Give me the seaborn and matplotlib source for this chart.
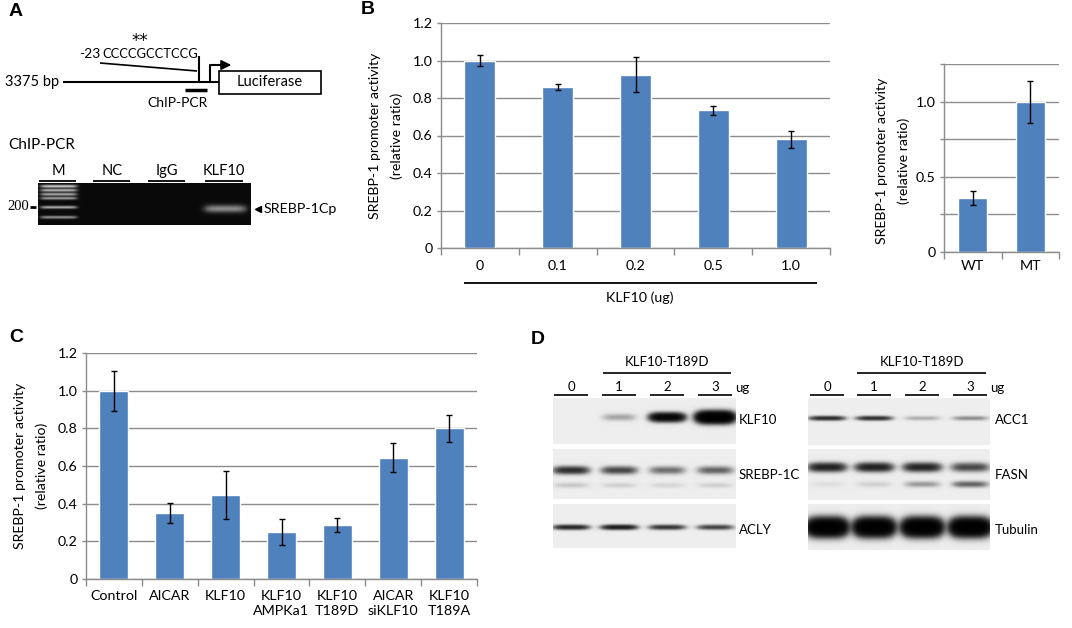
import numpy as np
import pandas as pd
import matplotlib
matplotlib.use("Agg")
import matplotlib.pyplot as plt
import seaborn as sns

# ---------------- data ----------------
b_doses = ["0", "0.1", "0.2", "0.5", "1.0"]
b_values = [1.00, 0.86, 0.925, 0.735, 0.58]
b_errors = [0.03, 0.015, 0.095, 0.023, 0.045]

b2_groups = ["WT", "MT"]
b2_values = [0.36, 1.00]
b2_errors = [0.045, 0.14]

c_groups = ["Control", "AICAR", "KLF10", "KLF10\nAMPKa1", "KLF10\nT189D",
            "AICAR\nsiKLF10", "KLF10\nT189A"]
c_values = [1.00, 0.35, 0.445, 0.25, 0.285, 0.645, 0.80]
c_errors = [0.107, 0.055, 0.128, 0.068, 0.038, 0.077, 0.072]

gel_lanes = ["M", "NC", "IgG", "KLF10"]
gel_ladder_intensity = [0.8, 0.7, 0.65, 0.6, 0.65, 0.55]
gel_klf10_band = 0.5

blot_doses = ["0", "1", "2", "3"]
blot_left_proteins = ["KLF10", "SREBP-1C", "ACLY"]
blot_right_proteins = ["ACC1", "FASN", "Tubulin"]
klf10_band = [0.0, 0.17, 1.6, 2.6]
srebp_band = [0.75, 0.55, 0.35, 0.4]
srebp_lower = [0.08, 0.06, 0.05, 0.06]
acly_band = [0.85, 1.0, 0.7, 0.6]
acc1_band = [0.8, 0.75, 0.15, 0.25]
fasn_band = [0.9, 0.9, 0.85, 0.55]
fasn_lower = [0.03, 0.06, 0.2, 0.4]
tubulin_band = [2.5, 2.5, 2.5, 2.5]

# ---------------- setup ----------------
W, H = 1072, 628
sns.set_theme(style="white")
plt.rcParams["font.family"] = ["Lato", "DejaVu Sans"]
BLUE = "#4F81BD"
GRID = "#8C8C8C"

fig = plt.figure(figsize=(W / 100, H / 100), dpi=100)


def rect(x0, y0, x1, y1):
    return [x0 / W, 1 - y1 / H, (x1 - x0) / W, (y1 - y0) / H]


def excel_bar(ax, cats, vals, errs, ymax, yticks, ylabels, width, xpad):
    df = pd.DataFrame({"cat": cats, "val": vals})
    sns.barplot(data=df, x="cat", y="val", ax=ax, color=BLUE, width=width,
                saturation=1, errorbar=None, zorder=2)
    ax.errorbar(np.arange(len(cats)), vals, yerr=errs, fmt="none",
                ecolor="black", elinewidth=1, capsize=2.5, capthick=1, zorder=3)
    ax.set_xlim(-0.5, len(cats) - 0.5)
    ax.set_ylim(0, ymax)
    ax.set_yticks(yticks)
    ax.set_yticklabels(ylabels)
    ax.yaxis.grid(True, color=GRID, lw=1)
    ax.xaxis.grid(False)
    ax.set_axisbelow(True)
    for s in ["top", "right"]:
        ax.spines[s].set_visible(False)
    for s in ["left", "bottom"]:
        ax.spines[s].set_color(GRID)
        ax.spines[s].set_linewidth(1)
    ax.set_xlabel("")
    ax.set_ylabel("")
    ax.set_xticks(np.arange(-0.5, len(cats)), minor=True)
    ax.tick_params(axis="y", left=True, length=3, width=1, color=GRID,
                   pad=3, labelsize=10.3, labelcolor="black")
    ax.tick_params(axis="x", which="major", bottom=True, length=0,
                   pad=xpad, labelsize=10.3, labelcolor="black")
    ax.tick_params(axis="x", which="minor", bottom=True, length=5, width=1,
                   color=GRID)
    ax.set_facecolor("none")


# Panel B main
axB = fig.add_axes(rect(441, 23, 830, 248))
excel_bar(axB, b_doses, b_values, b_errors, 1.2,
          np.arange(0, 1.21, 0.2), ["0", "0.2", "0.4", "0.6", "0.8", "1.0", "1.2"],
          0.4, 9)

# Panel B right
axB2 = fig.add_axes(rect(944, 64, 1059, 252))
excel_bar(axB2, b2_groups, b2_values, b2_errors, 1.25,
          np.arange(0, 1.26, 0.25), ["0", "", "0.5", "", "1.0", ""], 0.5, 6)

# Panel C
axC = fig.add_axes(rect(86, 353, 477, 579))
excel_bar(axC, c_groups, c_values, c_errors, 1.2,
          np.arange(0, 1.21, 0.2), ["0", "0.2", "0.4", "0.6", "0.8", "1.0", "1.2"],
          0.52, 8)
for t in axC.get_xticklabels():
    t.set_linespacing(1.25)

# ---------------- overlay ----------------
ov = fig.add_axes([0, 0, 1, 1])
ov.set_facecolor("none")


def T(x, y, s, size=10, ha="center", va="center", **kw):
    ov.text(x, y, s, fontsize=size, ha=ha, va=va, color="black", **kw)


def L(xs, ys, lw=1.0, **kw):
    ov.plot(xs, ys, color="black", lw=lw, solid_capstyle="butt", **kw)


# panel letters
for x, y, s in [(16, 12, "A"), (368, 10, "B"), (16, 337, "C"), (538, 340, "D")]:
    T(x, y, s, size=14, fontweight="bold", family=["Liberation Sans"])

# y labels
for (x1, x2, yc) in [(375, 397, 136), (882, 904, 161), (20, 42, 466)]:
    T(x1, yc, "SREBP-1 promoter activity", size=10.2, rotation=90)
    T(x2, yc, "(relative ratio)", size=10.2, rotation=90)

# Panel B underline
L([464, 817], [283, 283], lw=1.3)
T(640, 298, "KLF10 (ug)", size=10.3)

# ---- Panel A diagram ----
T(140, 46, "**", size=12, va="baseline", family=["DejaVu Sans"])
T(100, 54, "-23", size=10, ha="right")
T(102, 54, "CCCCGCCTCCG", size=9.3, ha="left")
L([100, 197], [63, 71], lw=1.2)
L([199, 199], [56, 82], lw=1.5)
T(5, 82, "3375 bp", size=10.5, ha="left")
L([63, 219], [82, 82], lw=1.5)
L([210, 210, 226], [82, 65, 65], lw=1.5)
ov.annotate("", xy=(234, 65), xytext=(224, 65),
            arrowprops=dict(arrowstyle="-|>,head_length=0.5,head_width=0.25",
                            color="black", lw=1.2))
ov.add_patch(plt.Rectangle((219, 71), 102, 23, fill=False, ec="black", lw=1.2))
T(270, 82, "Luciferase", size=10.5)
L([185, 207], [90, 90], lw=2.5)
T(178, 103, "ChIP-PCR", size=10)
T(8, 145, "ChIP-PCR", size=11, ha="left")

# gel lanes
lane_x = [58, 112, 167, 224]
for x, lab in zip(lane_x, gel_lanes):
    T(x, 171, lab, size=10.5)
for a, b in [(39, 76), (93, 130), (148, 185), (205, 243)]:
    L([a, b], [181, 181], lw=1.3)

# gel image
gx0, gx1, gy0, gy1 = 38, 251, 183, 225
yy, xx = np.mgrid[gy0:gy1:0.5, gx0:gx1:0.5]
img = np.full(xx.shape, 0.04)
ladder_y = [186, 190, 194, 198, 207, 217]
lane_M = np.exp(-((xx - 58.5) / 18.5) ** 8)
for yb, iv in zip(ladder_y, gel_ladder_intensity):
    img += iv * lane_M * np.exp(-((yy - yb) / 1.4) ** 2)
img += gel_klf10_band * np.exp(-((xx - 225) / 21) ** 6) * np.exp(-((yy - 208.5) / 3.8) ** 2)
img = np.clip(img, 0, 1)
ov.imshow(img, cmap="gray", vmin=0, vmax=1, extent=(gx0, gx1, gy1, gy0),
          aspect="auto", interpolation="bilinear", zorder=1)
T(29, 207, "200", size=10.5, ha="right", family=["Liberation Serif", "DejaVu Serif"])
L([30, 36], [207, 207], lw=2)
ov.plot([258], [209], marker="<", color="black", ms=5)
T(264, 209, "SREBP-1Cp", size=10.3, ha="left")

# ---- Panel D blots ----
def blot(x0, x1, y0, y1, lanes, bands, bg=0.07):
    yy, xx = np.mgrid[y0:y1:0.5, x0:x1:0.5]
    dark = np.zeros(xx.shape)
    for (vals, yc, sy, hw) in bands:
        for xc, v in zip(lanes, vals):
            w = hw * (1 + 0.08 * max(v - 1, 0))
            s = sy * (1 + 0.35 * max(v - 1, 0))
            g = np.exp(-(np.abs(xx - xc) / w) ** 4) * np.exp(-((yy - yc) / s) ** 2)
            dark += v * g
    dark = 1 - np.exp(-2.2 * dark)
    img = 1 - bg - (1 - bg) * dark
    ov.imshow(img, cmap="gray", vmin=0, vmax=1, extent=(x0, x1, y1, y0),
              aspect="auto", interpolation="bilinear", zorder=1)


left_lanes = [571, 619, 667, 715]
right_lanes = [827, 874, 922, 970]
blot(553, 736, 398, 444, left_lanes, [(klf10_band, 417, 3.2, 16)])
blot(553, 736, 449, 499, left_lanes, [(srebp_band, 470, 3.5, 17), (srebp_lower, 485, 2.5, 17)])
blot(553, 736, 504, 548, left_lanes, [(acly_band, 527, 2.2, 17)])
blot(808, 990, 398, 445, right_lanes, [(acc1_band, 418, 2.0, 17)])
blot(808, 990, 449, 500, right_lanes, [(fasn_band, 467, 4.0, 18), (fasn_lower, 484, 2.8, 17)])
blot(808, 990, 504, 550, right_lanes, [(tubulin_band, 527, 5.0, 17)])

for lanes, ugx, hdr_x, hl in [(left_lanes, 735, 667, (603, 731)),
                               (right_lanes, 990, 922, (857, 986))]:
    for xc, d in zip(lanes, blot_doses):
        T(xc, 387, d, size=9.5)
        L([xc - 17, xc + 17], [395, 395], lw=1.2)
    T(ugx, 388, "ug", size=9.5, ha="left")
    T(hdr_x, 362, "KLF10-T189D", size=9.5)
    L(list(hl), [373, 373], lw=1.2)

for y, lab in zip([420, 475, 530], blot_left_proteins):
    T(739, y, lab, size=9.5, ha="left")
for y, lab in zip([420, 475, 530], blot_right_proteins):
    T(995, y, lab, size=9.5, ha="left")

ov.set_xlim(0, W)
ov.set_ylim(H, 0)
ov.axis("off")

fig.savefig("out.png", dpi=100, facecolor="white")
